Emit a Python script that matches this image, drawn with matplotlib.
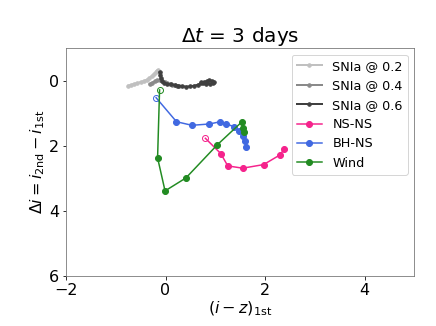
import numpy as np
import matplotlib
matplotlib.use('Agg')
import matplotlib.pyplot as plt

# SNIa tracks
sn02_x = [-0.75, -0.70, -0.64, -0.57, -0.50, -0.44, -0.38, -0.33, -0.28, -0.24, -0.20, -0.17, -0.15]
sn02_y = [0.15, 0.13, 0.10, 0.07, 0.04, 0.01, -0.03, -0.08, -0.14, -0.20, -0.26, -0.31, -0.33]
sn04_x = [-0.32, -0.27, -0.22, -0.17, -0.12, -0.07, -0.02, 0.03, 0.08, 0.13, 0.18, 0.23, 0.27]
sn04_y = [0.10, 0.06, 0.02, -0.02, -0.03, 0.01, 0.05, 0.08, 0.10, 0.12, 0.14, 0.15, 0.16]
sn06_x = [-0.12, -0.11, -0.09, -0.07, -0.03, 0.03, 0.10, 0.18, 0.26, 0.34, 0.42, 0.50, 0.58,
          0.65, 0.71, 0.77, 0.83, 0.88, 0.93, 0.97, 0.95, 0.89, 0.82, 0.76, 0.72]
sn06_y = [-0.26, -0.17, -0.08, 0.00, 0.06, 0.09, 0.11, 0.13, 0.15, 0.17, 0.18, 0.17, 0.15,
          0.12, 0.08, 0.04, 0.01, -0.01, 0.00, 0.04, 0.08, 0.10, 0.10, 0.08, 0.05]

nsns_x = [0.80, 1.11, 1.25, 1.55, 1.97, 2.29, 2.39]
nsns_y = [1.77, 2.24, 2.62, 2.69, 2.58, 2.29, 2.10]

bhns_x = [-0.19, 0.22, 0.53, 0.88, 1.10, 1.21, 1.37, 1.48, 1.55, 1.60, 1.62]
bhns_y = [0.52, 1.26, 1.37, 1.33, 1.26, 1.32, 1.41, 1.54, 1.69, 1.85, 2.05]

wind_x = [-0.12, -0.16, -0.01, 0.41, 1.04, 1.53, 1.55, 1.57]
wind_y = [0.28, 2.37, 3.39, 2.99, 1.97, 1.27, 1.46, 1.58]

fig = plt.figure(figsize=(436 / 72, 326 / 72), dpi=72)
ax = fig.add_axes([0.1514, 0.1543, 0.799, 0.6975])

ax.plot(sn02_x, sn02_y, '-o', color='#c0c0c0', lw=2, ms=3.5, label='SNIa @ 0.2')
ax.plot(sn04_x, sn04_y, '-o', color='#8a8a8a', lw=2, ms=3.5, label='SNIa @ 0.4')
ax.plot(sn06_x, sn06_y, '-o', color='#404040', lw=2, ms=3.5, label='SNIa @ 0.6')

tracks = [(nsns_x, nsns_y, '#f5238c', 'NS-NS'),
          (bhns_x, bhns_y, '#4169e1', 'BH-NS'),
          (wind_x, wind_y, '#228b22', 'Wind')]
for xs, ys, c, lab in tracks:
    ax.plot(xs, ys, '-', color=c, lw=1.5)
    ax.plot(xs[1:], ys[1:], 'o', color=c, ms=6)
    ax.plot(xs[0], ys[0], 'o', mfc='none', mec=c, ms=6, mew=1)
    ax.plot([], [], '-o', color=c, ms=6, lw=1.5, label=lab)

ax.set_xlim(-2, 5)
ax.set_ylim(6, -1)
ax.set_xticks([-2, 0, 2, 4])
ax.set_yticks([0, 2, 4, 6])
ax.tick_params(labelsize=16)
for s in ax.spines.values():
    s.set_color('0.45')
ax.set_xlabel(r'$(i-z)_{\rm 1st}$', fontsize=16, labelpad=2)
ax.set_ylabel(r'$\Delta i = i_{\rm 2nd} - i_{\rm 1st}$', fontsize=16, labelpad=2)
ax.set_title(r'$\Delta t$ = 3 days', fontsize=20)
ax.legend(loc='upper right', fontsize=12.8, handlelength=2.0)

fig.savefig('out.png', dpi=72)
